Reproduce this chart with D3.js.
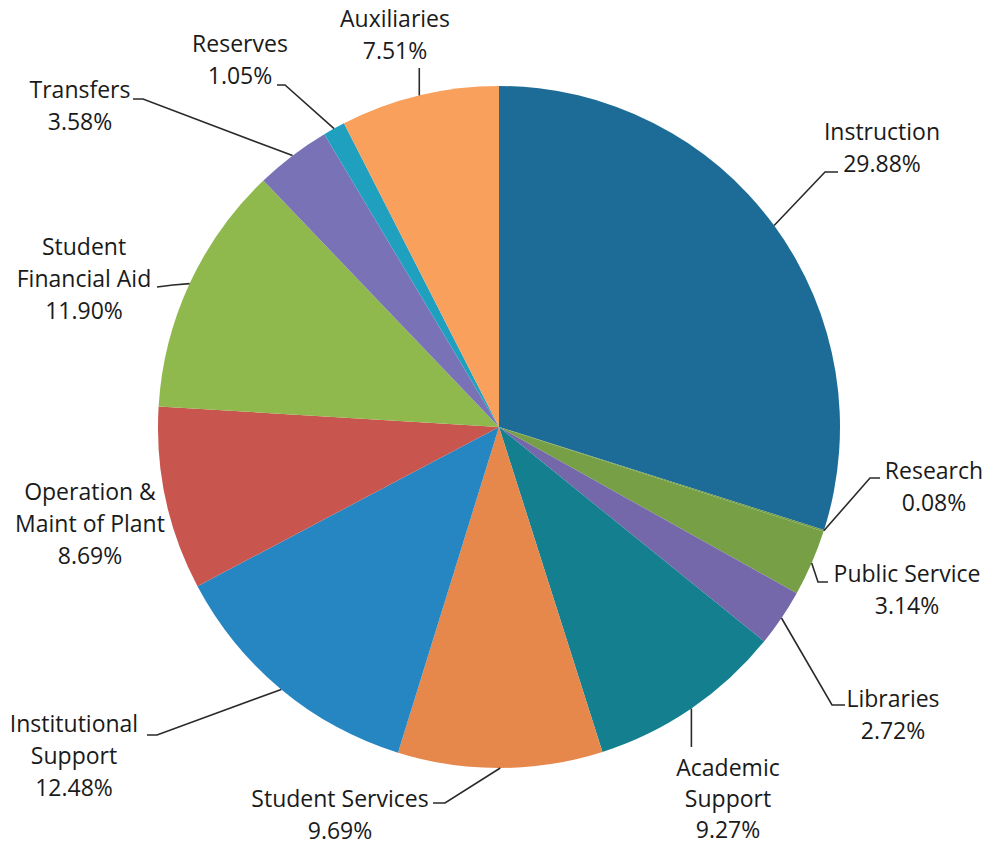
<!DOCTYPE html>
<html>
<head>
<meta charset="utf-8">
<script src="https://cdn.jsdelivr.net/npm/d3@7"></script>
<style>
  html, body { margin: 0; padding: 0; background: #ffffff; }
  svg { display: block; }
  text { font-family: "Open Sans", "Noto Sans", sans-serif; font-size: 23px; fill: #1a1a1a; }
</style>
</head>
<body>
<svg id="chart" width="985" height="846"></svg>
<script>
// Budget shares by function (percent), clockwise from 12 o'clock
const categories = [
  "Instruction", "Research", "Public Service", "Libraries", "Academic Support",
  "Student Services", "Institutional Support", "Operation & Maint of Plant",
  "Student Financial Aid", "Transfers", "Reserves", "Auxiliaries"
];
const values = [29.88, 0.08, 3.14, 2.72, 9.27, 9.69, 12.48, 8.69, 11.90, 3.58, 1.05, 7.51];
const valueLabels = ["29.88%", "0.08%", "3.14%", "2.72%", "9.27%", "9.69%", "12.48%", "8.69%", "11.90%", "3.58%", "1.05%", "7.51%"];

// Slice colours
const colors = [
  "#1c6c97", "#6f9a42", "#77a046", "#7468aa", "#14808f",
  "#e6874b", "#2586c2", "#c8564f", "#8fb94d", "#7a72b6", "#1fa0bf", "#f9a05d"
];

// Label placement: text lines, centre x / first baseline, leader elbow points
const labelLayout = {
  "Instruction":                {lines: ["Instruction"], x: 882, y: 140, leader: [[825, 172], [838, 172]]},
  "Research":                   {lines: ["Research"], x: 934, y: 479, leader: [[870, 478], [880, 478]]},
  "Public Service":             {lines: ["Public Service"], x: 907, y: 582, leader: [[818, 582], [828, 582]]},
  "Libraries":                  {lines: ["Libraries"], x: 893, y: 707, leader: [[832, 705], [845, 705]]},
  "Academic Support":           {lines: ["Academic", "Support"], x: 728, y: 776, leader: "down", leaderEnd: 747, lh: 31},
  "Student Services":           {lines: ["Student Services"], x: 340, y: 807, leader: [[445, 803], [433, 803]]},
  "Institutional Support":      {lines: ["Institutional", "Support"], x: 74, y: 732, leader: [[157, 735], [147, 735]]},
  "Operation & Maint of Plant": {lines: ["Operation &", "Maint of Plant"], x: 90, y: 500, leader: null},
  "Student Financial Aid":      {lines: ["Student", "Financial Aid"], x: 84, y: 255, leader: [[173, 285], [157, 287]]},
  "Transfers":                  {lines: ["Transfers"], x: 80, y: 98, leader: [[143, 99], [133, 99]]},
  "Reserves":                   {lines: ["Reserves"], x: 240, y: 52, leader: [[285, 85], [277, 85]]},
  "Auxiliaries":                {lines: ["Auxiliaries"], x: 395, y: 27, leader: "up", leaderEnd: 68}
};

const cx = 499, cy = 427, radius = 341, lineHeight = 32;

const data = categories.map((c, i) => ({name: c, value: values[i], label: valueLabels[i], color: colors[i]}));

const svg = d3.select("#chart");
const g = svg.append("g").attr("transform", `translate(${cx},${cy})`);

const pie = d3.pie().value(d => d.value).sort(null);
const arc = d3.arc().innerRadius(0).outerRadius(radius);
const arcs = pie(data);

g.selectAll("path.slice")
  .data(arcs)
  .join("path")
  .attr("class", "slice")
  .attr("d", arc)
  .attr("fill", d => d.data.color);

// Leader lines from the slice edge to each label
function edgePoint(d) {
  const a = (d.startAngle + d.endAngle) / 2;
  return [cx + radius * Math.sin(a), cy - radius * Math.cos(a)];
}

const leaderGroup = svg.append("g")
  .attr("fill", "none")
  .attr("stroke", "#2a2a2a")
  .attr("stroke-width", 1.6);

arcs.forEach(d => {
  const lay = labelLayout[d.data.name];
  if (!lay || !lay.leader) return;
  const p0 = edgePoint(d);
  let pts;
  if (lay.leader === "down" || lay.leader === "up") {
    pts = [p0, [p0[0], lay.leaderEnd]];
  } else {
    pts = [p0, ...lay.leader];
  }
  leaderGroup.append("path").attr("d", d3.line()(pts));
});

// Category names and percentages
const labelGroup = svg.append("g").attr("text-anchor", "middle");
arcs.forEach(d => {
  const lay = labelLayout[d.data.name];
  const allLines = [...lay.lines, d.data.label];
  const lh = lay.lh || lineHeight;
  const t = labelGroup.append("text").attr("x", lay.x).attr("y", lay.y);
  allLines.forEach((ln, i) => {
    t.append("tspan").attr("x", lay.x).attr("dy", i === 0 ? 0 : lh).text(ln);
  });
});
</script>
</body>
</html>
